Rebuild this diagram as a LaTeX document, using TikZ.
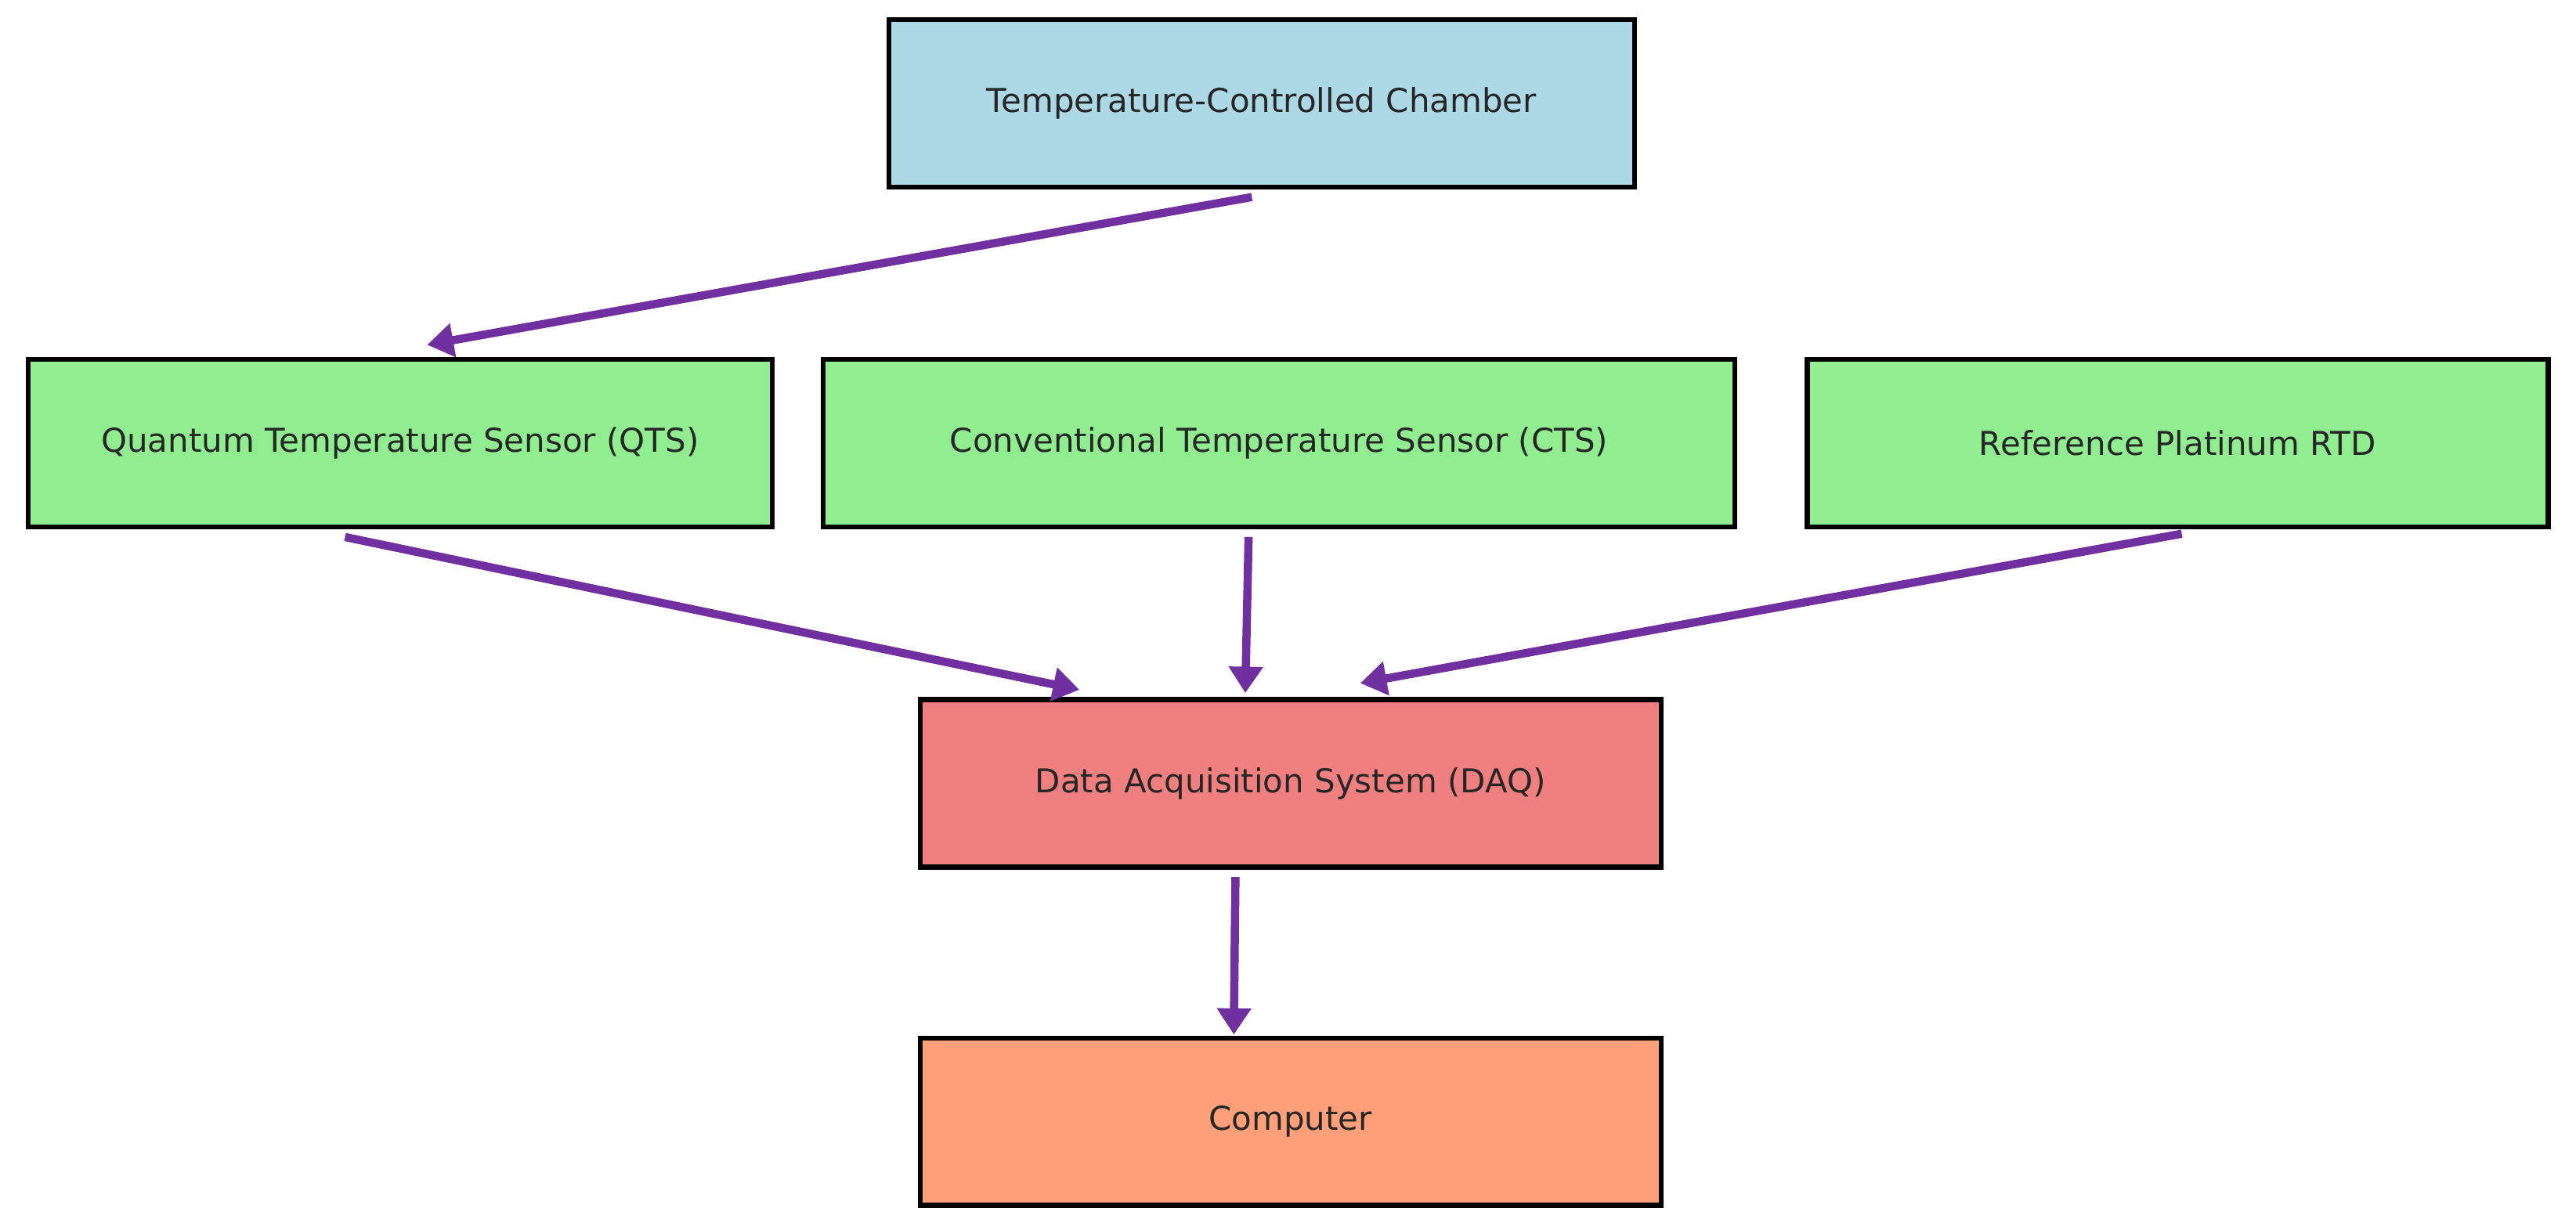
\documentclass[tikz,border=0pt]{standalone}
\usepackage{fontspec}
\setmainfont{DejaVu Sans}
\usetikzlibrary{arrows.meta}
\definecolor{cblue}{HTML}{ADD8E6}
\definecolor{cgreen}{HTML}{90EE90}
\definecolor{cred}{HTML}{F08080}
\definecolor{corange}{HTML}{FFA07A}
\definecolor{arr}{HTML}{7030A0}
\begin{document}
\begin{tikzpicture}[x=1pt,y=1pt,
  box/.style={draw=black,line width=3pt,inner sep=0pt,font=\fontsize{20}{24}\selectfont,text=black!85},
  link/.style={draw=arr,line width=5pt,-{Triangle[length=16pt,width=20pt]}}]
\useasboundingbox (0,0) rectangle (1568,748.5);
\node[box,fill=cblue,minimum width=454pt,minimum height=102pt] (ch) at (768,685.5) {Temperature-Controlled Chamber};
\node[box,fill=cgreen,minimum width=453pt,minimum height=102pt] (qts) at (243.5,478.5) {Quantum Temperature Sensor (QTS)};
\node[box,fill=cgreen,minimum width=555pt,minimum height=102pt] (cts) at (778.5,478.5) {Conventional Temperature Sensor (CTS)};
\node[box,fill=cgreen,minimum width=451pt,minimum height=102pt] (rtd) at (1325.5,478.5) {Reference Platinum RTD};
\node[box,fill=cred,minimum width=451pt,minimum height=102pt] (daq) at (785.5,271.5) {Data Acquisition System (DAQ)};
\node[box,fill=corange,minimum width=451pt,minimum height=102pt] (pc) at (785.5,65.5) {Computer};
\coordinate (a1) at (762,628.5); \coordinate (b1) at (260,538.5);
\coordinate (a2) at (210,421.5); \coordinate (b2) at (657,328.5);
\coordinate (a3) at (760,421.5); \coordinate (b3) at (758,326.5);
\coordinate (a4) at (1328,423.5); \coordinate (b4) at (828,332.5);
\coordinate (a5) at (752,214.5); \coordinate (b5) at (751,118.5);
\draw[link] (a1) -- (b1);
\draw[link] (a2) -- (b2);
\draw[link] (a3) -- (b3);
\draw[link] (a4) -- (b4);
\draw[link] (a5) -- (b5);
\end{tikzpicture}
\end{document}
